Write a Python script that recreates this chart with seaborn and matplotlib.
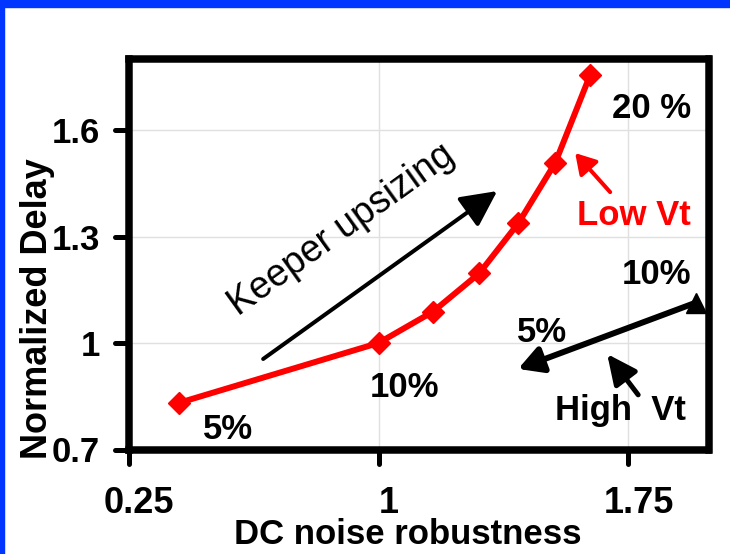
import matplotlib
matplotlib.use("Agg")
import matplotlib.pyplot as plt
import matplotlib.transforms as mtransforms
from matplotlib.markers import MarkerStyle
from matplotlib.patches import Rectangle
import seaborn as sns
import pandas as pd

# ---- data ----
noise_robustness = [0.40, 1.00, 1.163, 1.302, 1.42, 1.53, 1.635]
normalized_delay = [0.831, 1.00, 1.088, 1.196, 1.338, 1.507, 1.755]
x_ticks = [0.25, 1.0, 1.75]
x_tick_labels = ["0.25", "1", "1.75"]
y_ticks = [0.7, 1.0, 1.3, 1.6]
y_tick_labels = ["0.7", "1", "1.3", "1.6"]

df = pd.DataFrame({"x": noise_robustness, "y": normalized_delay})

sns.set_theme(style="white")
plt.rcParams["font.family"] = ["Liberation Sans", "DejaVu Sans"]

fig = plt.figure(figsize=(7.3, 5.54), dpi=100)
fig.patch.set_facecolor("white")
W, H = 730.0, 554.0
ax = fig.add_axes([128.5 / W, 1 - 449.5 / H, 580 / W, 390.5 / H])
ax.set_facecolor("white")

# blue frame strips (top and left)
blue = "#0036FF"
fig.patches.append(Rectangle((0, 1 - 7 / H), 1, 7 / H, transform=fig.transFigure,
                             color=blue, zorder=0))
fig.patches.append(Rectangle((0, 0), 4 / W, 1, transform=fig.transFigure,
                             color=blue, zorder=0))

sns.lineplot(data=df, x="x", y="y", ax=ax, color="#FF0000", linewidth=4.3,
             marker="D", markersize=11.5, markeredgecolor="#FF0000",
             markeredgewidth=1, zorder=5)

ax.set_xlim(0.25, 1.99)
ax.set_ylim(0.7, 1.8)
ax.set_xticks(x_ticks)
ax.set_xticklabels(x_tick_labels)
ax.set_yticks(y_ticks)
ax.set_yticklabels(y_tick_labels)

ax.grid(True, color="#e0e0e0", linewidth=1)
ax.set_axisbelow(True)

for s in ax.spines.values():
    s.set_linewidth(5.4)
    s.set_color("black")
    s.set_visible(True)

ax.tick_params(axis="both", direction="out", length=10, width=3.6, color="black",
               bottom=True, left=True)
ax.tick_params(axis="x", pad=16.5, labelsize=26)
ax.tick_params(axis="y", pad=10.5, labelsize=25)
for lbl in ax.get_xticklabels() + ax.get_yticklabels():
    lbl.set_fontweight("bold")
    lbl.set_color("black")

off = mtransforms.ScaledTranslation(0.10, 0, fig.dpi_scale_trans)
for lbl in ax.get_xticklabels():
    lbl.set_transform(lbl.get_transform() + off)

try:
    for t in ax.xaxis.get_major_ticks() + ax.yaxis.get_major_ticks():
        m = t.tick1line.get_marker()
        t.tick1line.set_marker(MarkerStyle(m, capstyle="round"))
except Exception:
    pass

ax.set_xlabel("DC noise robustness", fontsize=25, fontweight="bold", color="black")
ax.set_ylabel("Normalized Delay", fontsize=26, fontweight="bold", color="black")
ax.xaxis.set_label_coords(0.482, -0.176)
ax.yaxis.set_label_coords(-0.1267, 0.362)

# ---- annotations ----
txt = dict(fontsize=25, fontweight="bold", color="black", ha="center", va="baseline")
ax.text(1.818, 1.634, "20 %", **txt)
ax.text(1.767, 1.332, "Low Vt", **{**txt, "color": "#FF0000"})
ax.text(1.833, 1.166, "10%", **txt)
ax.text(1.49, 1.003, "5%", **txt)
ax.text(1.725, 0.783, "High  Vt", **txt)
ax.text(1.077, 0.848, "10%", **txt)
ax.text(0.5485, 0.730, "5%", **txt)

ax.text(0.89, 1.318, "Keeper upsizing", fontsize=27, color="black", ha="center",
        va="center", rotation=35.7, rotation_mode="anchor")


def arrow(head, tail, lw, hl, hw, color="black"):
    ax.annotate("", xy=head, xytext=tail,
                arrowprops=dict(arrowstyle=f"-|>,head_length={hl},head_width={hw}",
                                mutation_scale=1, lw=lw, color=color,
                                shrinkA=0, shrinkB=0), zorder=6)


arrow((1.356, 1.428), (0.654, 0.955), 2.9, 22, 11)
arrow((1.419, 0.927), (1.95, 1.113), 4.3, 14.5, 8)
arrow((1.59, 1.535), (1.695, 1.425), 2.9, 12, 7.2, color="#FF0000")
arrow((1.686, 0.969), (1.779, 0.854), 3.6, 18, 8.5)
ax.plot([1.953], [1.113], marker="^", markersize=14, color="black", clip_on=False,
        zorder=6)

fig.savefig("out.png", dpi=100, facecolor="white")
